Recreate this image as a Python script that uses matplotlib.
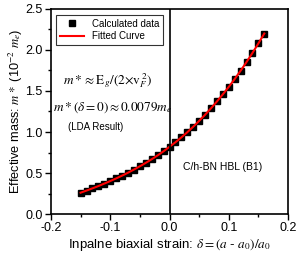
import matplotlib
matplotlib.use("Agg")
import matplotlib.pyplot as plt
from matplotlib.ticker import MultipleLocator, FormatStrFormatter

strain = [-0.15, -0.14, -0.13, -0.12, -0.11, -0.10, -0.09, -0.08, -0.07, -0.06,
          -0.05, -0.04, -0.03, -0.02, -0.01, 0.00, 0.01, 0.02, 0.03, 0.04,
          0.05, 0.06, 0.07, 0.08, 0.09, 0.10, 0.11, 0.12, 0.13, 0.14, 0.15, 0.16]
mass = [0.260, 0.286, 0.313, 0.341, 0.371, 0.402, 0.434, 0.468, 0.504, 0.542,
        0.582, 0.624, 0.668, 0.715, 0.765, 0.820, 0.875, 0.934, 0.997, 1.064,
        1.135, 1.210, 1.289, 1.372, 1.459, 1.550, 1.646, 1.747, 1.853, 1.964,
        2.080, 2.201]

plt.rcParams["font.family"] = "Liberation Sans"
plt.rcParams["mathtext.fontset"] = "stix"
plt.rcParams["font.size"] = 8

fig = plt.figure(figsize=(2.99, 2.57), dpi=100)
ax = fig.add_axes([0.1706, 0.1673, 0.7926, 0.7977])

ax.plot(strain, mass, "s", color="black", markersize=4.5, label="Calculated data")
ax.plot(strain, mass, "-", color="red", linewidth=1.5, label="Fitted Curve")
ax.axvline(0, color="black", linewidth=1.2)

ax.set_xlim(-0.2, 0.2)
ax.set_ylim(0, 2.5)
ax.xaxis.set_major_locator(MultipleLocator(0.1))
ax.xaxis.set_minor_locator(MultipleLocator(0.05))
ax.yaxis.set_major_locator(MultipleLocator(0.5))
ax.yaxis.set_minor_locator(MultipleLocator(0.25))
ax.xaxis.set_major_formatter(FormatStrFormatter("%.1f"))
ax.yaxis.set_major_formatter(FormatStrFormatter("%.1f"))
ax.tick_params(which="both", direction="out", top=False, right=False, width=1)
ax.tick_params(which="major", length=4, labelsize=9, pad=2)
ax.tick_params(which="minor", length=2.5)
for s in ax.spines.values():
    s.set_linewidth(1.2)

ax.set_xlabel(r"Inpalne biaxial strain: $\delta = (a$ - $a_0)/a_0$", fontsize=9.5, labelpad=2)
ax.set_ylabel(r"Effective mass: $m*$ (10$^{-2}$ $m_e$)", fontsize=9.2, labelpad=0)

ax.text(-0.18, 1.63, r"$m*\approx \mathrm{E}_g/(2{\times}\mathrm{v}_F^{\ 2})$",
        fontsize=9.5, ha="left", va="center")
ax.text(-0.197, 1.30, r"$m*(\delta=0)\approx 0.0079m_e$",
        fontsize=9.5, ha="left", va="center")
ax.text(-0.171, 1.06, "(LDA Result)", fontsize=7, ha="left", va="center")
ax.text(0.023, 0.57, "C/h-BN HBL (B1)", fontsize=7.5, ha="left", va="center")

leg = ax.legend(loc="upper left", bbox_to_anchor=(0.021, 0.971), borderaxespad=0,
                fontsize=7, frameon=True, fancybox=False, handlelength=2.5,
                borderpad=0.4, labelspacing=0.25)
leg.get_frame().set_edgecolor("black")
leg.get_frame().set_linewidth(0.8)

fig.savefig("out.png", dpi=100)
